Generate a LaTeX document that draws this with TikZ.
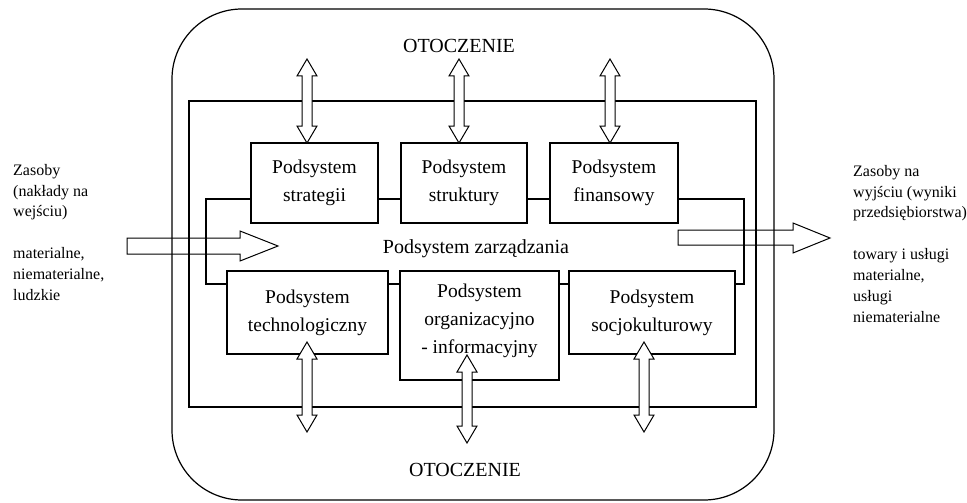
\documentclass[tikz,border=0pt]{standalone}
\usepackage{fontspec}
\setmainfont{Liberation Serif}
\usetikzlibrary{calc}
\newcommand\dblarr[3]{%
  \draw[barrow] (#1,#2) -- (#1+10,#2+17) -- (#1+5,#2+17) -- (#1+5,#3-17) -- (#1+10,#3-17) -- (#1,#3)
    -- (#1-10,#3-17) -- (#1-5,#3-17) -- (#1-5,#2+17) -- (#1-10,#2+17) -- cycle;}
\begin{document}
\begin{tikzpicture}[x=1pt,y=-1pt,
  box/.style={draw, line width=1.6pt, fill=white, align=center, inner sep=0pt,
    font=\fontsize{19.5}{28}\selectfont},
  link/.style={line width=1.6pt},
  frame/.style={line width=1.6pt},
  env/.style={line width=1.2pt},
  barrow/.style={draw, line width=1pt, fill=white, line join=miter},
  harrow/.style={draw, line width=1pt, line join=miter},
  lbl/.style={font=\fontsize{20}{24}\selectfont, inner sep=0pt},
  side/.style={font=\fontsize{16}{20.8}\selectfont, align=left, inner sep=0pt}]
\useasboundingbox (0,0) rectangle (967,503);
\fill[white] (0,0) rectangle (967,503);

% environment and system frames
\draw[env, rounded corners=70pt] (172,9) rectangle (774,500);
\draw[frame] (189,101) rectangle (756,407);

% subsystem boxes
\node[box, minimum width=127pt, minimum height=80pt] (strat) at (314.5,183) {Podsystem\\strategii};
\node[box, minimum width=126pt, minimum height=80pt] (strukt) at (464,183) {Podsystem\\struktury};
\node[box, minimum width=128pt, minimum height=80pt] (fin) at (614,183) {Podsystem\\finansowy};
\node[box, minimum width=161pt, minimum height=83pt] (tech) at (307.5,312.5) {Podsystem\\technologiczny};
\node[box, minimum width=159pt, minimum height=109pt] (org) at (479.5,325.5) {};
\node[box, draw=none, fill=none] (orgt) at (479.5,321) {Podsystem\\organizacyjno\\- informacyjny};
\node[box, minimum width=166pt, minimum height=83pt] (soc) at (652,312.5) {Podsystem\\socjokulturowy};

% connectors
\coordinate (tl) at ($(strat.east)+(0,16)$);
\coordinate (bl) at ($(tech.east)+(0,-28.5)$);
\draw[link] (tl) -- (tl -| strukt.west);
\draw[link] (tl -| strukt.east) -- (tl -| fin.west);
\draw[link] (bl) -- (bl -| org.west);
\draw[link] (bl -| org.east) -- (bl -| soc.west);
\draw[link] (tl -| strat.west) -| ($(bl -| tech.west)+(-20,0)$) -- (bl -| tech.west);
\draw[link] (tl -| fin.east) -| ($(bl -| soc.east)+(8,0)$) -- (bl -| soc.east);

% exchange with environment
\dblarr{307}{59}{143}
\dblarr{459}{59}{143}
\dblarr{610}{59}{143}
\dblarr{307}{342}{432}
\dblarr{467}{355}{443}
\dblarr{644}{342}{432}

% input / output arrows
\draw[harrow] (127,238) -- (240,238) -- (240,231) -- (278,246) -- (240,261) -- (240,254) -- (127,254) -- cycle;
\draw[harrow] (678,230) -- (793,230) -- (793,223) -- (830,238) -- (793,253) -- (793,245) -- (678,245) -- cycle;

% labels
\node[lbl, anchor=base] (otop) at (459,53) {OTOCZENIE};
\node[lbl, anchor=base] (obot) at (465,476) {OTOCZENIE};
\node[lbl, anchor=base] (mgmt) at (476,253) {Podsystem zarządzania};

\node[side, anchor=base west] (inp) at (13,300) {Zasoby\\(nakłady na\\wejściu)\\[20.8pt]materialne,\\niematerialne,\\ludzkie};
\node[side, anchor=base west] (outp) at (853,322) {Zasoby na\\wyjściu (wyniki\\przedsiębiorstwa)\\[21pt]towary i usługi\\materialne,\\usługi\\niematerialne};
\end{tikzpicture}
\end{document}
